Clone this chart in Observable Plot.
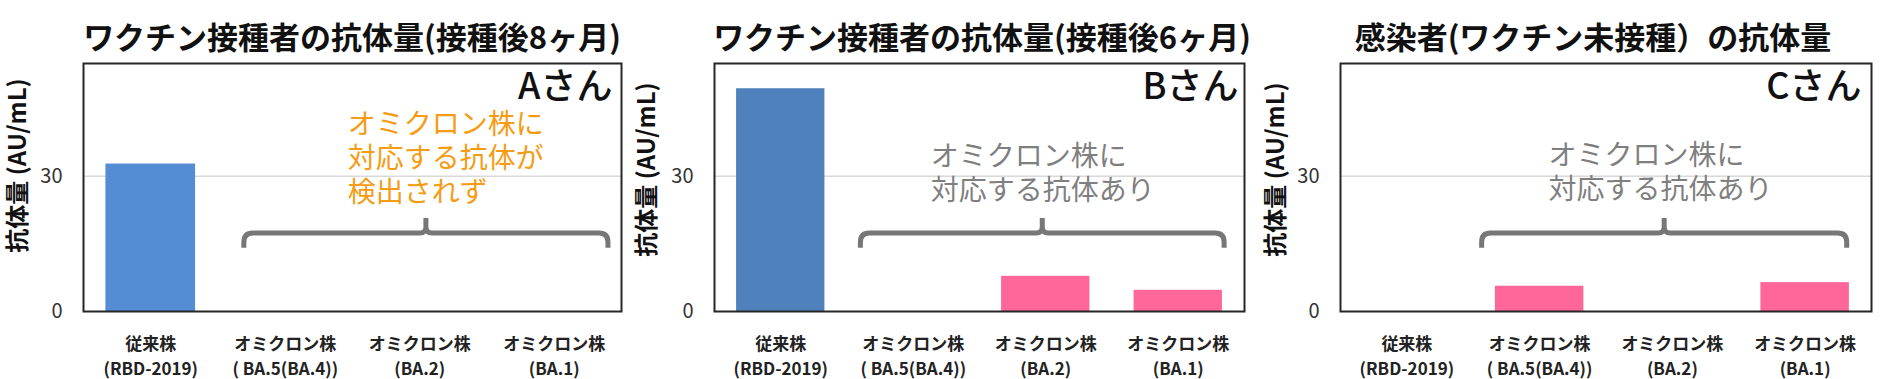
<!DOCTYPE html>
<html>
<head>
<meta charset="utf-8">
<script src="https://cdn.jsdelivr.net/npm/d3@7"></script>
<script src="https://cdn.jsdelivr.net/npm/@observablehq/plot@0.6"></script>
<style>
  html, body { margin: 0; padding: 0; background: #fff; }
  #root { position: relative; width: 1888px; height: 379px; overflow: hidden;
          font-family: "Noto Sans CJK JP", "Noto Sans", sans-serif; }
  .title { position: absolute; top: 16px; height: 40px; line-height: 40px;
           font-size: 31px; font-weight: 700; color: #111; text-align: center; white-space: nowrap; }
  .panel { position: absolute; top: 58px; }
</style>
</head>
<body>
<div id="root"></div>
<script>
// ---------- data ----------
const categories = ["RBD-2019", "BA.5(BA.4)", "BA.2", "BA.1"];
const tickLabels = ["従来株\n(RBD-2019)", "オミクロン株\n( BA.5(BA.4))", "オミクロン株\n(BA.2)", "オミクロン株\n(BA.1)"];
const yTicks = [0, 30];
const yLabel = "抗体量 (AU/mL)";
const titles = ["ワクチン接種者の抗体量(接種後8ヶ月)", "ワクチン接種者の抗体量(接種後6ヶ月)", "感染者(ワクチン未接種）の抗体量"];
const persons = ["Aさん", "Bさん", "Cさん"];
const notes = ["オミクロン株に\n対応する抗体が\n検出されず", "オミクロン株に\n対応する抗体あり", "オミクロン株に\n対応する抗体あり"];
const valuesA = [32.7, 0, 0, 0];
const valuesB = [49.4, 0, 7.8, 4.7];
const valuesC = [0, 5.6, 0, 6.4];
const seriesValues = [valuesA, valuesB, valuesC];

// ---------- layout / style ----------
const layout = [
  {left: 0,    width: 630, ml: 83, mr: 9,  labelDx: -65, labelDy: -22, noteDx: -72,  noteY: 44.7, noteColor: "#F59C14", personDx: -9,  barColor: "#548DD4", brace: {from: 1.196, to: 3.903}, titleCx: 352},
  {left: 630,  width: 630, ml: 84, mr: 16, labelDx: -67, labelDy: -18, noteDx: -115, noteY: 37.6, noteColor: "#7F7F7F", personDx: -6,  barColor: "#4F81BD", brace: {from: 1.105, to: 3.85},  titleCx: 982},
  {left: 1260, width: 628, ml: 80, mr: 17, labelDx: -64, labelDy: -18, noteDx: -124, noteY: 37.8, noteColor: "#7F7F7F", personDx: -10, barColor: "#548DD4", brace: {from: 1.067, to: 3.817}, titleCx: 1593}
];
const omicronColor = "#FF6699";
const braceLevels = {level: 17.3, tip: 20.6, end: 14.0};
const H = 321, MT = 5, MB = 68;

function braceMark(spec) {
  return (index, scales, values, dimensions) => {
    const {width, marginLeft, marginRight} = dimensions;
    const step = (width - marginLeft - marginRight) / categories.length;
    const px = u => marginLeft + u * step;
    const x0 = px(spec.from), x1 = px(spec.to), xm = (x0 + x1) / 2;
    const yH = scales.y(braceLevels.level), yT = scales.y(braceLevels.tip), yE = scales.y(braceLevels.end);
    const r = 9, rm = 6;
    const p = d3.path();
    p.moveTo(x0, yE); p.lineTo(x0, yH + r); p.quadraticCurveTo(x0, yH, x0 + r, yH);
    p.lineTo(xm - rm, yH); p.quadraticCurveTo(xm, yH, xm, yH - rm); p.lineTo(xm, yT);
    p.moveTo(xm, yH - rm); p.quadraticCurveTo(xm, yH, xm + rm, yH);
    p.lineTo(x1 - r, yH); p.quadraticCurveTo(x1, yH, x1, yH + r); p.lineTo(x1, yE);
    const el = document.createElementNS("http://www.w3.org/2000/svg", "path");
    el.setAttribute("d", p.toString());
    el.setAttribute("fill", "none");
    el.setAttribute("stroke", "#777777");
    el.setAttribute("stroke-width", "5");
    el.setAttribute("stroke-linejoin", "round");
    return el;
  };
}

const root = document.getElementById("root");
layout.forEach((L, i) => {
  const t = document.createElement("div");
  t.className = "title";
  t.textContent = titles[i];
  t.style.left = (L.titleCx - 400) + "px";
  t.style.width = "800px";
  root.appendChild(t);

  const data = categories.map((c, k) => ({cat: c, value: seriesValues[i][k], label: tickLabels[k]}));
  const chart = Plot.plot({
    width: L.width, height: H,
    marginLeft: L.ml, marginRight: L.mr, marginTop: MT, marginBottom: MB,
    style: {fontFamily: '"Noto Sans CJK JP", "Noto Sans", sans-serif', fontSize: "20px", background: "#fff", overflow: "visible"},
    x: {domain: categories, paddingInner: 1/3, paddingOuter: 1/6, round: false, axis: null},
    y: {domain: [0, 55], axis: null},
    marks: [
      Plot.gridY(yTicks.filter(d => d > 0), {stroke: "#D9D9D9", strokeOpacity: 1, strokeWidth: 1.5}),
      Plot.barY(data.filter(d => d.value > 0), {x: "cat", y: "value", fill: d => d.cat === categories[0] ? L.barColor : omicronColor}),
      Plot.axisY(yTicks, {tickSize: 0, tickPadding: 21, fontSize: 20, color: "#333", label: null}),
      Plot.text([yLabel], {frameAnchor: "left", text: d => d, rotate: -90, dx: L.labelDx, dy: L.labelDy, fontSize: 24, fontWeight: 700, fill: "#111", textAnchor: "middle", lineAnchor: "middle"}),
      Plot.text(data, {x: "cat", text: "label", frameAnchor: "bottom", dy: 21, lineAnchor: "top", lineHeight: 1.47, fontSize: 17, fontWeight: 700, fill: "#222"}),
      Plot.text([persons[i]], {frameAnchor: "top-right", text: d => d, dx: L.personDx, dy: 10, fontSize: 36, fontWeight: 500, fill: "#111", textAnchor: "end", lineAnchor: "top"}),
      Plot.text([notes[i]], {x: () => categories[2], y: () => L.noteY, text: d => d, dx: L.noteDx, textAnchor: "start", lineAnchor: "top", lineHeight: 1.21, fontSize: 28, fill: L.noteColor}),
      braceMark(L.brace),
      Plot.frame({stroke: "#262626", strokeWidth: 2})
    ]
  });
  chart.classList.add("panel");
  chart.style.left = L.left + "px";
  root.appendChild(chart);
});
</script>
</body>
</html>
